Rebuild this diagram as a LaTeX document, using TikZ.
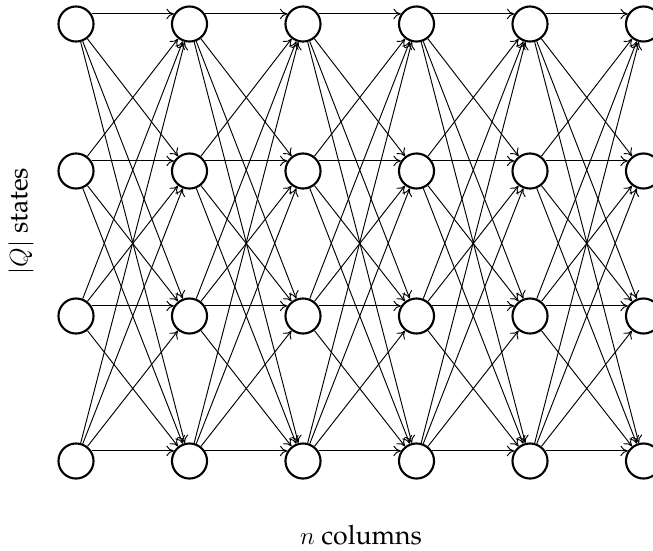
\documentclass[tikz,border=0pt]{standalone}
\usepackage[T1]{fontenc}
\renewcommand{\rmdefault}{ppl}
\usetikzlibrary{arrows.meta}
\begin{document}
\begin{tikzpicture}[x=0.4763pt,y=-0.4763pt,
  state/.style={circle,draw,line width=1pt,minimum size=16.7pt,inner sep=0pt},
  link/.style={-{To[length=3.6pt,width=5pt]},line width=0.45pt},
  lbl/.style={font=\fontsize{12.7pt}{15pt}\selectfont,inner sep=1pt}]
\useasboundingbox (0,0) rectangle (653,550);
\clip (0,0) rectangle (653,550);
\foreach \c [count=\ci from 1] in {76,189.5,303,416.5,530,643.5}{
  \foreach \r [count=\ri from 1] in {24,171,316,461}{
    \node[state] (n\ci-\ri) at (\c,\r) {};
  }
}
\foreach \ci [evaluate=\ci as \cn using int(\ci+1)] in {1,...,5}{
  \foreach \ri in {1,...,4}{
    \foreach \rj in {1,...,4}{
      \ifnum\ri=\rj
        \draw[link] (n\ci-\ri.33) -- (n\cn-\rj.147);
      \else
        \draw[link] (n\ci-\ri) -- (n\cn-\rj);
      \fi
    }
  }
}
\node[lbl,rotate=90] (ql) at (21,221) {$|Q|$ states};
\node[lbl] (nl) at (361,535) {$n$ columns};
\end{tikzpicture}
\end{document}
